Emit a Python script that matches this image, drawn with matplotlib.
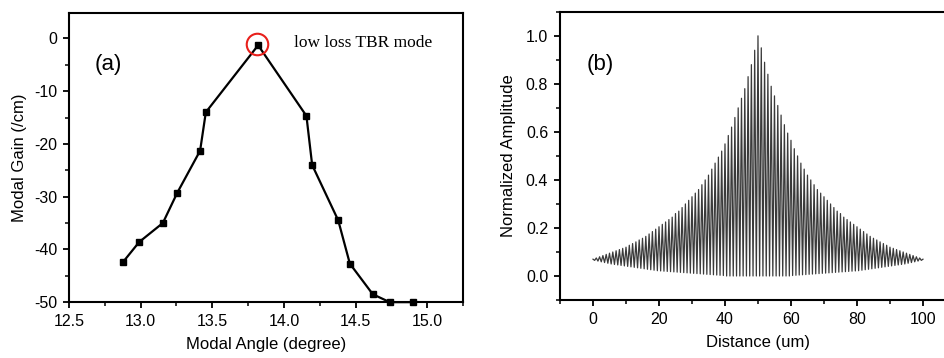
import numpy as np
import matplotlib
matplotlib.use("Agg")
import matplotlib.pyplot as plt
from matplotlib.ticker import MultipleLocator

plt.rcParams['font.family'] = ['Liberation Sans', 'DejaVu Sans']
plt.rcParams['axes.unicode_minus'] = False

# ---------------- Panel (a) data ----------------
modal_angle = [12.88, 12.99, 13.155, 13.255, 13.415, 13.455, 13.82,
               14.157, 14.197, 14.379, 14.46, 14.62, 14.738, 14.90]
modal_gain = [-42.3, -38.6, -35.0, -29.3, -21.3, -14.0, -1.3,
              -14.7, -24.0, -34.5, -42.7, -48.5, -50.0, -50.0]
tbr_angle = 13.815
tbr_gain = -1.1

# ---------------- Panel (b) data ----------------
# oscillation maxima (at integer um) and minima (at half-integer um)
dist_max = np.arange(0, 101)
amp_max = [0.070, 0.075, 0.080, 0.085, 0.090, 0.095, 0.100, 0.105, 0.110, 0.115,
           0.120, 0.128, 0.135, 0.142, 0.150, 0.157, 0.165, 0.175, 0.185, 0.195,
           0.205, 0.215, 0.225, 0.235, 0.245, 0.260, 0.270, 0.285, 0.300, 0.315,
           0.330, 0.345, 0.360, 0.380, 0.400, 0.420, 0.445, 0.470, 0.495, 0.520,
           0.550, 0.585, 0.620, 0.660, 0.700, 0.740, 0.780, 0.830, 0.880, 0.940,
           1.000,
           0.950, 0.890, 0.840, 0.790, 0.750, 0.710, 0.670, 0.630, 0.595, 0.565,
           0.530, 0.500, 0.470, 0.445, 0.420, 0.400, 0.380, 0.360, 0.345, 0.330,
           0.315, 0.300, 0.285, 0.270, 0.260, 0.245, 0.235, 0.225, 0.215, 0.205,
           0.195, 0.185, 0.175, 0.165, 0.157, 0.150, 0.142, 0.135, 0.128, 0.120,
           0.115, 0.110, 0.105, 0.100, 0.095, 0.090, 0.085, 0.080, 0.075, 0.070]
dist_min = np.arange(0.5, 100, 1.0)
amp_min = [0.065, 0.062, 0.059, 0.056, 0.053, 0.050, 0.048, 0.046, 0.044, 0.042,
           0.040, 0.038, 0.036, 0.034, 0.032, 0.030, 0.028, 0.026, 0.024, 0.022,
           0.021, 0.020, 0.019, 0.018, 0.017, 0.016, 0.015, 0.014, 0.013, 0.012,
           0.011, 0.010, 0.009, 0.008, 0.007, 0.006, 0.005, 0.004, 0.003, 0.002,
           0.000, 0.000, 0.000, 0.000, 0.000, 0.000, 0.000, 0.000, 0.000, 0.000,
           0.000, 0.000, 0.000, 0.000, 0.000, 0.000, 0.000, 0.000, 0.000, 0.000,
           0.002, 0.003, 0.004, 0.005, 0.006, 0.007, 0.008, 0.009, 0.010, 0.011,
           0.012, 0.013, 0.014, 0.015, 0.016, 0.017, 0.018, 0.019, 0.020, 0.021,
           0.022, 0.024, 0.026, 0.028, 0.030, 0.032, 0.034, 0.036, 0.038, 0.040,
           0.042, 0.044, 0.046, 0.048, 0.050, 0.053, 0.056, 0.059, 0.062, 0.065]

fig = plt.figure(figsize=(9.45, 3.58), dpi=100)

def style_axes(ax):
    for s in ax.spines.values():
        s.set_linewidth(1.5)
    ax.tick_params(which='major', direction='out', length=4.5, width=1.3,
                   labelsize=11.5, top=False, right=False, pad=4)
    ax.tick_params(which='minor', direction='out', length=2.8, width=1.1,
                   top=False, right=False)

# ---------------- Panel (a) ----------------
ax1 = fig.add_axes([0.073, 0.156, 0.417, 0.809])
ax1.plot(modal_angle, modal_gain, color='black', lw=1.6, marker='s',
         markersize=3.8, clip_on=False, zorder=3)
ax1.plot([tbr_angle], [tbr_gain], marker='o', markersize=15.5,
         markerfacecolor='none', markeredgecolor='#e8201c', markeredgewidth=1.5,
         linestyle='none', zorder=4)
ax1.set_xlim(12.5, 15.25)
ax1.set_ylim(-50, 4.9)
ax1.xaxis.set_major_locator(MultipleLocator(0.5))
ax1.xaxis.set_minor_locator(MultipleLocator(0.25))
ax1.yaxis.set_major_locator(MultipleLocator(10))
ax1.yaxis.set_minor_locator(MultipleLocator(5))
ax1.set_xticks([12.5, 13.0, 13.5, 14.0, 14.5, 15.0])
ax1.set_xticklabels(['12.5', '13.0', '13.5', '14.0', '14.5', '15.0'])
style_axes(ax1)
ax1.set_xlabel('Modal Angle (degree)', fontsize=12, labelpad=6)
ax1.set_ylabel('Modal Gain (/cm)', fontsize=12, labelpad=5)
ax1.text(12.68, -4.9, '(a)', fontsize=16, va='center', ha='left')
ax1.text(14.07, -0.95, 'low loss TBR mode', fontsize=12.5, va='center',
         ha='left', family=['Liberation Serif', 'DejaVu Serif'])

# ---------------- Panel (b) ----------------
ax2 = fig.add_axes([0.5926, 0.162, 0.419, 0.805])
zig_x = np.empty(len(dist_max) + len(dist_min))
zig_y = np.empty(len(dist_max) + len(dist_min))
zig_x[0::2] = dist_max
zig_x[1::2] = dist_min
zig_y[0::2] = amp_max
zig_y[1::2] = amp_min
ax2.plot(zig_x, zig_y, color='#3a3a3a', lw=0.9)
ax2.set_xlim(-10, 110)
ax2.set_ylim(-0.1, 1.1)
ax2.xaxis.set_major_locator(MultipleLocator(20))
ax2.xaxis.set_minor_locator(MultipleLocator(10))
ax2.yaxis.set_major_locator(MultipleLocator(0.2))
ax2.yaxis.set_minor_locator(MultipleLocator(0.1))
ax2.set_xticks([0, 20, 40, 60, 80, 100])
ax2.set_yticks([0.0, 0.2, 0.4, 0.6, 0.8, 1.0])
ax2.set_yticklabels(['0.0', '0.2', '0.4', '0.6', '0.8', '1.0'])
style_axes(ax2)
ax2.set_xlabel('Distance (um)', fontsize=12, labelpad=6)
ax2.set_ylabel('Normalized Amplitude', fontsize=12, labelpad=7)
ax2.text(-1.8, 0.88, '(b)', fontsize=16, va='center', ha='left')

fig.savefig('out.png', dpi=100)
